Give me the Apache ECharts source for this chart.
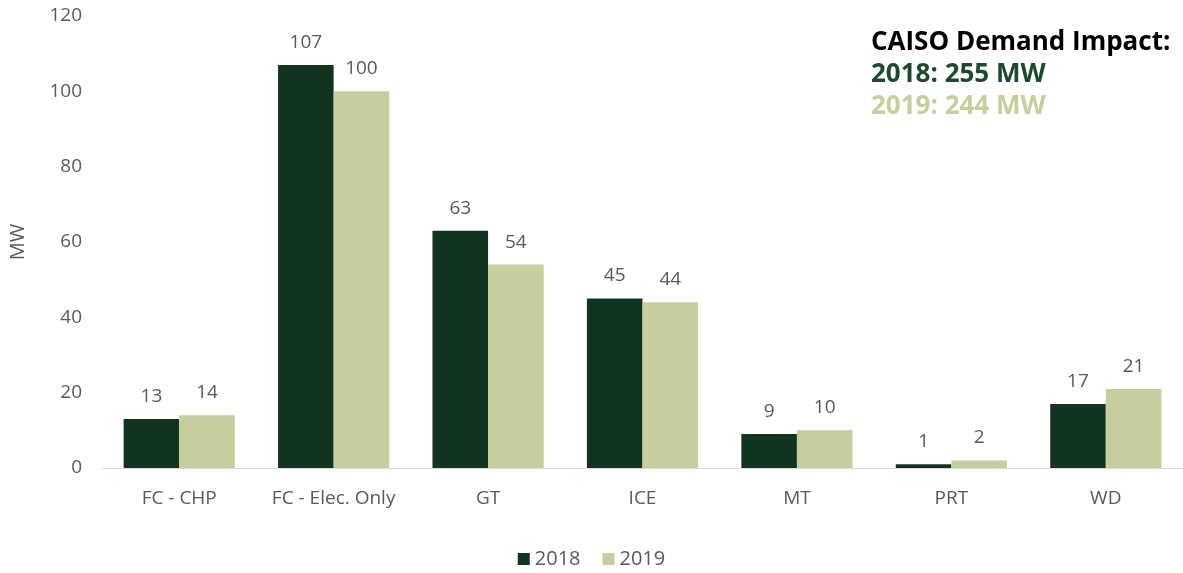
<!DOCTYPE html>
<html>
<head>
<meta charset="utf-8">
<script src="https://cdn.jsdelivr.net/npm/echarts@6/dist/echarts.min.js"></script>
<style>
  html, body { margin: 0; padding: 0; background: #ffffff; }
  #chart { width: 1183px; height: 573px; }
</style>
</head>
<body>
<div id="chart"></div>
<script>
// Distributed generation demand impact by technology (MW)
const categories = ['FC - CHP', 'FC - Elec. Only', 'GT', 'ICE', 'MT', 'PRT', 'WD'];
const values2018 = [13, 107, 63, 45, 9, 1, 17];
const values2019 = [14, 100, 54, 44, 10, 2, 21];
const yTicks = [0, 20, 40, 60, 80, 100, 120];
const totals = { '2018': 255, '2019': 244 };

const DARK = '#12331F';
const LIGHT = '#C5CE9D';
const TEXT = '#595959';
const FONT = '"Open Sans", "Liberation Sans", sans-serif';

const chart = echarts.init(document.getElementById('chart'), null, { renderer: 'canvas' });

const labelStyle = {
  show: true,
  position: 'top',
  distance: 13,
  color: TEXT,
  fontFamily: FONT,
  fontSize: 19
};

chart.setOption({
  backgroundColor: '#ffffff',
  animation: false,
  textStyle: { fontFamily: FONT },
  title: {
    left: 866,
    top: 22,
    text: '{h|CAISO Demand Impact:}\n{a|2018: ' + totals['2018'] + ' MW}\n{b|2019: ' + totals['2019'] + ' MW}',
    textStyle: {
      rich: {
        h: { fontFamily: FONT, fontSize: 26, fontWeight: 'bold', color: '#000000', lineHeight: 32 },
        a: { fontFamily: FONT, fontSize: 26, fontWeight: 'bold', color: '#1E4A2C', lineHeight: 32 },
        b: { fontFamily: FONT, fontSize: 26, fontWeight: 'bold', color: LIGHT, lineHeight: 32 }
      }
    }
  },
  legend: {
    bottom: -1,
    left: 'center',
    itemWidth: 12,
    itemHeight: 12,
    itemGap: 22,
    icon: 'rect',
    textStyle: { color: TEXT, fontFamily: FONT, fontSize: 20 },
    data: ['2018', '2019']
  },
  grid: {
    left: 100,
    top: 16,
    width: 1089,
    height: 452,
    containLabel: false
  },
  xAxis: {
    type: 'category',
    data: categories,
    axisLine: { show: true, lineStyle: { color: '#D9D9D9', width: 1 } },
    axisTick: { show: false },
    axisLabel: { color: TEXT, fontFamily: FONT, fontSize: 19, margin: 21, interval: 0 }
  },
  yAxis: {
    type: 'value',
    min: yTicks[0],
    max: yTicks[yTicks.length - 1],
    interval: yTicks[1] - yTicks[0],
    name: 'MW',
    nameLocation: 'middle',
    nameGap: 74,
    nameRotate: 90,
    nameTextStyle: { color: TEXT, fontFamily: FONT, fontSize: 20 },
    axisLine: { show: false },
    axisTick: { show: false },
    splitLine: { show: false },
    axisLabel: { color: TEXT, fontFamily: FONT, fontSize: 19, margin: 20 }
  },
  series: [
    {
      name: '2018',
      type: 'bar',
      data: values2018,
      itemStyle: { color: DARK },
      barGap: '0%',
      barCategoryGap: '28%',
      label: labelStyle
    },
    {
      name: '2019',
      type: 'bar',
      data: values2019,
      itemStyle: { color: LIGHT },
      label: labelStyle
    }
  ]
});
</script>
</body>
</html>
